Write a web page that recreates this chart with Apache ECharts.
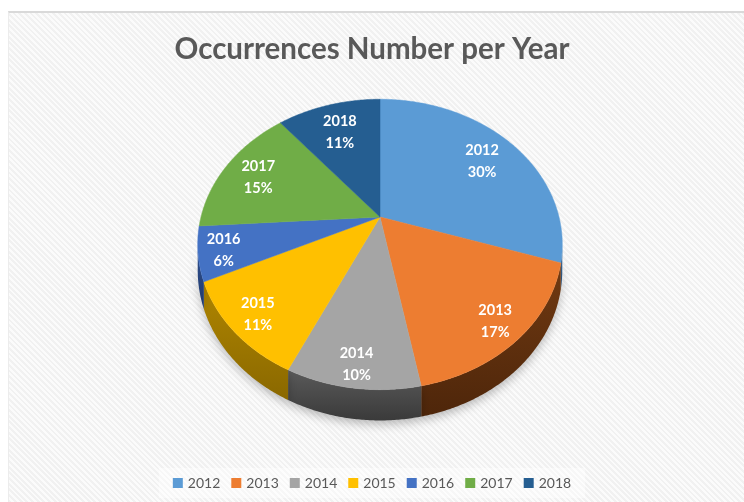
<!DOCTYPE html>
<html>
<head>
<meta charset="utf-8">
<script src="https://cdn.jsdelivr.net/npm/echarts@6/dist/echarts.min.js"></script>
<style>
  html, body { margin: 0; padding: 0; background: #ffffff; }
  #wrap { position: relative; width: 744px; height: 502px; overflow: hidden; }
  #panel { position: absolute; left: 8px; top: 11px; right: 0; bottom: 0;
    border-top: 2px solid #d9d9d9; border-left: 1px solid #ececec;
    background-color: #f5f5f5;
    background-image: repeating-linear-gradient(45deg, #f1f1f1 0px, #f1f1f1 2px, #fbfbfb 2px, #fbfbfb 4px); }
  #chart { position: absolute; left: 0; top: 0; width: 744px; height: 502px; }
</style>
</head>
<body>
<div id="wrap">
  <div id="panel"></div>
  <div id="chart"></div>
</div>
<script>
// ---- data ----
const years = ['2012', '2013', '2014', '2015', '2016', '2017', '2018'];
const shares = [30, 17, 10, 11, 6, 15, 11];
const titleText = 'Occurrences Number per Year';

// ---- style ----
const topColors = ['#5B9BD5', '#ED7D31', '#A5A5A5', '#FFC000', '#4472C4', '#70AD47', '#255E91'];
const sideColors = [
  ['#3d6c98', '#2c5078'],
  ['#713a12', '#4e260a'],
  ['#5a5a5a', '#3a3a3a'],
  ['#b08600', '#8a6800'],
  ['#2f5090', '#213a6c'],
  ['#4e7a31', '#375722'],
  ['#1a4266', '#11304b']
];

// layout of the tilted pie (perspective projection of a disk)
const CX = 380, CY = 217, RX = 179, RY = 140, P = 0.189, H = 25;
const FONT = 'Lato, "Open Sans", sans-serif';

const total = shares.reduce((a, b) => a + b, 0);
const starts = [];
{ let acc = 0; shares.forEach(v => { starts.push(acc); acc += v; }); }

function proj(r, th, drop) {
  const s = Math.sin(th), c = Math.cos(th);
  const d = 1 + P * r * c;
  return [CX + RX * r * s / d, CY - RY * r * c / d + (drop || 0) / d];
}
function arcPts(a, b, drop) {
  const pts = [];
  const n = Math.max(2, Math.ceil(Math.abs(b - a) / (Math.PI / 360)));
  for (let i = 0; i <= n; i++) pts.push(proj(1, a + (b - a) * i / n, drop));
  return pts;
}
// ellipse of the rim (for label fitting)
const ECY = (CY - RY / (1 + P) + CY + RY / (1 - P)) / 2;
const ERY = (RY / (1 - P) + RY / (1 + P)) / 2;
const ERX = RX / Math.sqrt(1 - P * P);
function inside(x, y, m) {
  const dx = (x - CX) / (ERX - m), dy = (y - ECY) / (ERY - m);
  return dx * dx + dy * dy <= 1;
}
function labelPos(mid) {
  const hw = 17, hh = 17, m = 6;
  for (let r = 0.98; r > 0.3; r -= 0.005) {
    const p = proj(r, mid, 0);
    if (inside(p[0] - hw, p[1] - hh, m) && inside(p[0] + hw, p[1] - hh, m) &&
        inside(p[0] - hw, p[1] + hh, m) && inside(p[0] + hw, p[1] + hh, m)) return p;
  }
  return proj(0.6, mid, 0);
}

const thL = Math.acos(-P);               // right silhouette
const thR = 2 * Math.PI - Math.acos(-P); // left silhouette

function makeSeries(i) {
  return {
    type: 'custom',
    name: years[i],
    coordinateSystem: 'none',
    itemStyle: { color: topColors[i] },
    data: [[starts[i], shares[i]]],
    renderItem: function (params, api) {
      const a = api.value(0) / total * 2 * Math.PI;
      const b = (api.value(0) + api.value(1)) / total * 2 * Math.PI;
      const children = [];
      // side wall (front part only)
      const sa = Math.max(a, thL), sb = Math.min(b, thR);
      if (sb > sa) {
        const topArc = arcPts(sa, sb, 0);
        const botArc = arcPts(sa, sb, H).reverse();
        children.push({
          type: 'polygon', z2: 1,
          shape: { points: topArc.concat(botArc) },
          style: {
            fill: new echarts.graphic.LinearGradient(0, 0, 0, 1, [
              { offset: 0, color: sideColors[i][0] },
              { offset: 1, color: sideColors[i][1] }
            ]),
            shadowBlur: 10, shadowColor: 'rgba(0,0,0,0.25)', shadowOffsetY: 4
          }
        });
      }
      // top face
      const pts = [[CX, CY]].concat(arcPts(a, b, 0));
      children.push({
        type: 'polygon', z2: 5,
        shape: { points: pts },
        style: { fill: topColors[i], stroke: topColors[i], lineWidth: 0.5 }
      });
      // label
      const lp = labelPos((a + b) / 2);
      children.push({
        type: 'text', z2: 10, x: lp[0], y: lp[1] + 2,
        style: {
          text: years[i] + '\n' + Math.round(api.value(1) / total * 100) + '%',
          fill: '#ffffff', font: 'bold 14.5px ' + FONT,
          align: 'center', verticalAlign: 'middle', lineHeight: 22
        }
      });
      return { type: 'group', children: children };
    }
  };
}

const chart = echarts.init(document.getElementById('chart'), null, { renderer: 'canvas' });
chart.setOption({
  animation: false,
  backgroundColor: 'transparent',
  title: {
    text: titleText, left: 'center', top: 29,
    textStyle: { fontFamily: FONT, fontSize: 29.5, fontWeight: 'bold', color: '#595959' }
  },
  legend: {
    data: years, left: 'center', top: 468, itemWidth: 10, itemHeight: 10, itemGap: 11,
    icon: 'rect',
    backgroundColor: 'rgba(255,255,255,0.45)',
    padding: [8, 14, 8, 14],
    textStyle: { fontFamily: FONT, fontSize: 14, color: '#595959' }
  },
  series: years.map((y, i) => makeSeries(i))
});
</script>
</body>
</html>
